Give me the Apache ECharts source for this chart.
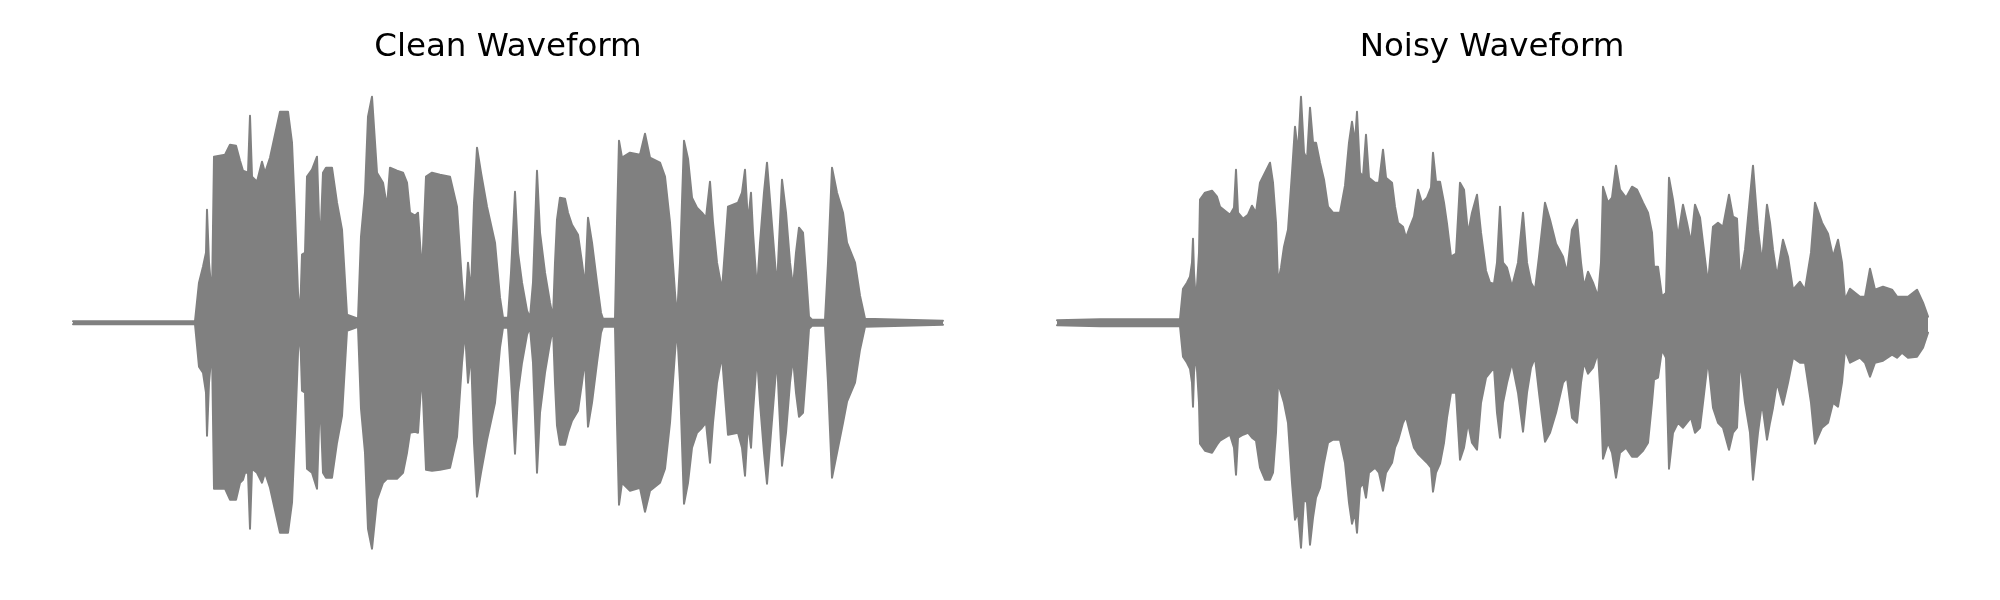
<!DOCTYPE html>
<html>
<head>
<meta charset="utf-8">
<script src="https://cdn.jsdelivr.net/npm/echarts@6/dist/echarts.min.js"></script>
<style>html,body{margin:0;padding:0;background:#fff;}#chart{width:2000px;height:600px;}</style>
</head>
<body>
<div id="chart"></div>
<script>
// Envelope of each waveform.
// time in frames (1 frame = 4 ms), amplitude in int16-like sample units.
const titles = ['Clean Waveform', 'Noisy Waveform'];

const cleanTime = [0,122,126,130,133,134,136,139,141,152,157,163,167,170,172,175,177,179,184,189,192,197,207,215,219,222,225,227,229,232,234,239,244,247,250,253,259,264,269,274,285,288,292,295,299,304,310,314,317,324,330,334,337,342,345,349,353,359,367,377,384,389,392,395,398,401,404,408,414,422,427,430,435,438,442,445,449,454,457,460,464,467,472,477,480,482,484,487,492,495,499,505,509,512,515,519,524,528,530,542,544,546,549,557,567,572,577,587,592,597,602,604,607,611,615,619,624,629,633,637,640,644,649,651,655,665,669,672,675,678,680,684,687,691,694,698,702,704,706,709,713,717,720,723,726,730,733,736,739,752,755,759,764,770,774,782,787,792,870];
const cleanUpper = [150,150,4000,5600,7000,11300,6000,2500,16600,16800,17800,17700,16200,15200,15000,15000,20700,14600,14100,16100,15000,16500,21100,21100,18000,11000,3000,600,6800,7000,14600,15300,16600,7300,15000,15500,15500,12000,9300,800,400,8600,13000,20600,22600,15000,14000,11600,15500,15200,15000,14000,11000,10700,11000,5000,14600,15000,14800,14600,11600,4000,800,6000,3000,12000,17500,15000,11600,8000,2500,500,500,5000,13100,7000,4000,1200,500,4000,15200,9000,5000,2000,500,6000,10300,12500,12400,11000,9800,8800,6000,3600,10500,8000,4000,1000,400,400,10000,18200,16500,17000,16800,18900,16500,16000,14600,10000,3000,500,6000,18200,16400,12500,11500,11000,10500,14100,10000,6000,3300,6000,11600,12000,13000,15300,10000,13000,9000,3300,8000,13000,16000,11000,6000,3500,8000,14300,11000,6000,3500,7000,9500,9000,5000,600,300,300,6000,15500,13000,11000,8000,6000,2700,400,200];
const cleanLower = [-150,-150,-4400,-5000,-7000,-11300,-6000,-2500,-16600,-16600,-17700,-17700,-16000,-15700,-15000,-15000,-20600,-14600,-15000,-16000,-15000,-16500,-21000,-21000,-18000,-11000,-3000,-600,-6800,-7000,-14600,-15000,-16600,-7300,-15000,-15500,-15500,-12000,-9300,-800,-400,-8600,-13000,-20600,-22600,-17700,-16000,-15600,-15600,-15600,-15000,-13000,-11000,-10900,-11000,-5000,-14700,-14800,-14700,-14500,-11400,-4000,-800,-6000,-3000,-12000,-17400,-15000,-11700,-8000,-2500,-500,-500,-5500,-13100,-7000,-4000,-1200,-500,-4000,-15000,-9000,-5000,-2000,-500,-6000,-10300,-12200,-12200,-11000,-9800,-8800,-6000,-3600,-10400,-8000,-4000,-1000,-400,-400,-10000,-18200,-16000,-16800,-16500,-18900,-16800,-16000,-14600,-10000,-3000,-500,-6000,-18100,-16000,-12500,-11000,-10500,-10000,-14000,-10000,-6000,-3300,-6000,-11200,-11000,-12500,-15300,-10000,-12500,-9000,-3300,-8000,-13000,-16100,-11000,-6000,-3500,-8000,-14300,-11000,-6000,-3500,-7000,-9400,-9000,-5000,-600,-300,-300,-6000,-15500,-13000,-10000,-7900,-6000,-2700,-400,-200];

const noisyTime = [0,43,123,126,130,133,135,136,137,139,142,143,148,155,160,163,168,173,177,179,181,186,191,195,199,203,208,213,216,219,221,224,227,231,235,238,241,244,247,250,253,256,259,263,267,271,276,283,288,292,295,298,300,303,306,309,312,318,322,326,329,335,338,341,346,349,353,357,361,365,370,374,376,379,383,387,390,394,399,403,407,411,415,420,424,429,433,437,440,443,446,450,455,461,466,470,474,478,482,488,493,499,506,510,515,520,524,527,531,536,541,544,546,551,555,559,563,569,575,580,586,591,595,597,601,605,609,612,616,621,626,630,634,638,643,646,651,656,661,666,672,676,680,683,688,693,696,701,705,710,713,716,720,726,731,736,743,748,754,758,765,771,776,781,785,788,793,803,808,813,818,826,835,840,845,851,860,866,871];
const noisyUpper = [250,350,350,3400,4000,4600,6000,8400,5000,2000,7000,12300,13000,13200,12600,11600,11200,10800,11500,15300,11000,10400,10800,11700,11000,14000,15000,16000,14000,10000,4000,5500,7600,9300,15000,19600,17000,22600,17000,16300,21500,18000,18000,16000,14300,11600,11000,11000,13700,18000,20100,18000,21100,15000,14600,18800,14500,14000,14000,17300,14500,14000,11600,10000,9600,8500,9600,10600,13300,12000,12500,13500,17000,14100,14100,12000,9900,6600,6900,14000,13300,8900,11000,12800,9000,5200,4000,3900,6000,11600,6000,5500,3600,6000,11000,6000,4000,3300,6600,12000,10300,7900,6600,5000,9300,10300,6000,3600,5100,4000,2600,6000,13600,12000,12500,15700,13300,12500,13600,13300,12000,11000,9000,5600,5600,2600,3000,14500,12300,8600,11800,10000,8000,11800,10500,8000,3900,9600,10000,9600,12800,10600,10400,4300,7300,12600,15700,9300,6000,11800,10000,7300,4600,8300,6600,3300,4100,3300,7000,12000,10000,8900,6600,8300,6000,2300,3400,2600,2600,5400,3300,3600,3300,2600,2600,2600,3300,2000,600];
const noisyLower = [-250,-350,-350,-3400,-4000,-4600,-6000,-8400,-5000,-3000,-8000,-12100,-12800,-13000,-12200,-11800,-11500,-11200,-12500,-15200,-11500,-11200,-11000,-11500,-11800,-14500,-15700,-15700,-15000,-11000,-6000,-7000,-8000,-10000,-16000,-19700,-19000,-22500,-17500,-18000,-22200,-19500,-17500,-16500,-14000,-12000,-11700,-11700,-14000,-18000,-20100,-19000,-21000,-16500,-16000,-17500,-15000,-14500,-15000,-16800,-15000,-14000,-12500,-11800,-10000,-9400,-11000,-12500,-13100,-13500,-14000,-14500,-16900,-15000,-14100,-12000,-9500,-7000,-7000,-13700,-12500,-10000,-12000,-12700,-8000,-5500,-5000,-4500,-9000,-11500,-8000,-6000,-4000,-7000,-10900,-7000,-4500,-3500,-7000,-11900,-11000,-9000,-6000,-5500,-9500,-10000,-6000,-4000,-5100,-4500,-3000,-8000,-13600,-12000,-13000,-15500,-13000,-12500,-13400,-13400,-12800,-12000,-8000,-5700,-5500,-2700,-3500,-14600,-11000,-10000,-10500,-10000,-9500,-11000,-10500,-8000,-3700,-8500,-10000,-10500,-12700,-11000,-10500,-3700,-8000,-11000,-15700,-11000,-8000,-11700,-10000,-8500,-6000,-8200,-6000,-3500,-4000,-4000,-8000,-12100,-10500,-10000,-8000,-8400,-6000,-2700,-4000,-3500,-4000,-5400,-4000,-3800,-3200,-3500,-3000,-3500,-3400,-2500,-1000];

const waveColor = '#808080';

// upper envelope filled down to a level just below zero, lower envelope filled
// up to a level just above zero, so the two halves overlap with no seam
function envelopeSeries(time, values, idx, origin) {
  return {
    type: 'line',
    xAxisIndex: idx,
    yAxisIndex: idx,
    data: time.map((t, i) => [t, values[i]]),
    symbol: 'none',
    silent: true,
    animation: false,
    clip: false,
    lineStyle: { color: waveColor, width: 2, join: 'round', cap: 'round' },
    areaStyle: { color: waveColor, opacity: 1, origin: origin },
    z: 2
  };
}

const chart = echarts.init(document.getElementById('chart'), null, { renderer: 'canvas' });
chart.setOption({
  backgroundColor: '#ffffff',
  animation: false,
  title: [
    { text: titles[0], left: 508, top: 31, textAlign: 'center', padding: 0,
      textStyle: { fontFamily: 'DejaVu Sans', fontSize: 32.5, fontWeight: 'normal', color: '#000' } },
    { text: titles[1], left: 1492, top: 31, textAlign: 'center', padding: 0,
      textStyle: { fontFamily: 'DejaVu Sans', fontSize: 32.5, fontWeight: 'normal', color: '#000' } }
  ],
  grid: [
    { left: 73, top: 92.7, width: 870, height: 460 },
    { left: 1057, top: 92.7, width: 871, height: 460 }
  ],
  xAxis: [
    { type: 'value', gridIndex: 0, min: 0, max: 870, show: false },
    { type: 'value', gridIndex: 1, min: 0, max: 871, show: false }
  ],
  yAxis: [
    { type: 'value', gridIndex: 0, min: -23000, max: 23000, show: false },
    { type: 'value', gridIndex: 1, min: -23000, max: 23000, show: false }
  ],
  series: [
    envelopeSeries(cleanTime, cleanUpper, 0, -100),
    envelopeSeries(cleanTime, cleanLower, 0, 100),
    envelopeSeries(noisyTime, noisyUpper, 1, -100),
    envelopeSeries(noisyTime, noisyLower, 1, 100)
  ]
});
</script>
</body>
</html>
